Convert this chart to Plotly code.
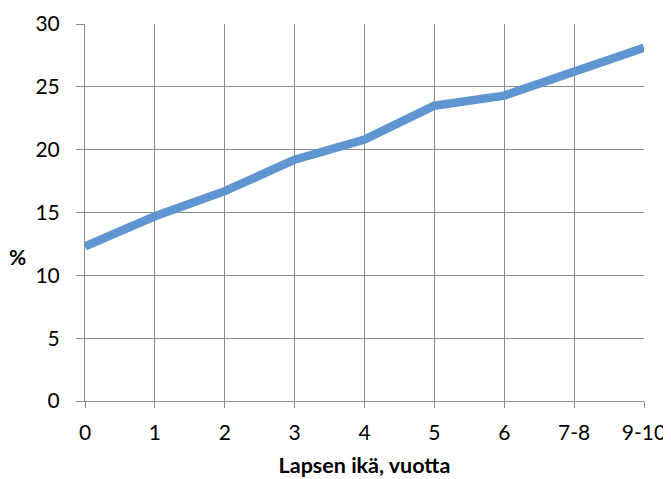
import plotly.graph_objects as go

categories = ["0", "1", "2", "3", "4", "5", "6", "7-8", "9-10"]
values = [12.3, 14.7, 16.7, 19.2, 20.8, 23.5, 24.3, 26.2, 28.1]
y_ticks = [0, 5, 10, 15, 20, 25, 30]

FONT = "Lato, Open Sans, sans-serif"

fig = go.Figure()
fig.add_trace(go.Scatter(
    x=categories, y=values, mode="lines",
    line=dict(color="#5f96d1", width=8.5),
    hoverinfo="skip", showlegend=False,
))

fig.update_layout(
    width=663, height=471,
    margin=dict(l=77, r=27, t=16, b=78),
    paper_bgcolor="white", plot_bgcolor="white",
    font=dict(family=FONT, size=21, color="black"),
)
fig.update_xaxes(
    type="category", range=[0, len(categories) - 1],
    automargin=False,
    showgrid=True, gridcolor="#8c8c8c", gridwidth=1,
    showline=True, linecolor="#8c8c8c", linewidth=1, mirror=False,
    ticks="outside", ticklen=6, tickcolor="#8c8c8c",
    ticklabelstandoff=7,
    tickfont=dict(family=FONT, size=21),
    title=dict(text="<b>Lapsen ikä, vuotta</b>", font=dict(family=FONT, size=21.5), standoff=14),
    zeroline=False,
)
fig.update_yaxes(
    range=[0, 30], tickvals=y_ticks,
    automargin=False,
    showgrid=True, gridcolor="#8c8c8c", gridwidth=1,
    showline=True, linecolor="#8c8c8c", linewidth=1,
    ticks="outside", ticklen=8, tickcolor="#8c8c8c",
    ticklabelstandoff=12,
    tickfont=dict(family=FONT, size=21),
    zeroline=False,
)
fig.add_annotation(
    text="<b>%</b>", xref="paper", yref="paper", x=-0.121, y=0.382,
    xanchor="center", yanchor="middle", showarrow=False,
    font=dict(family=FONT, size=21, color="black"),
)
fig.write_html("out.html")
